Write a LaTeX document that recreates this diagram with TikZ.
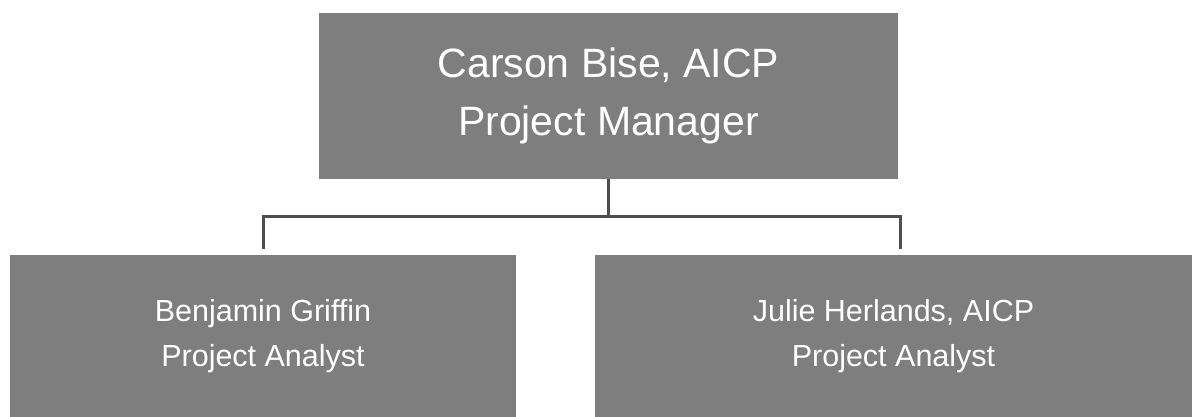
\documentclass[tikz,border=0pt]{standalone}
\usepackage{fontspec}
\setmainfont{Liberation Sans}
\definecolor{boxgray}{RGB}{126,126,126}
\definecolor{linegray}{RGB}{78,78,78}
\begin{document}
\begin{tikzpicture}[x=1pt,y=1pt,
  orgbox/.style={fill=boxgray, draw=none, inner sep=0pt, text=white, align=center},
  bigtext/.style={font=\fontsize{41}{58}\selectfont},
  smalltext/.style={font=\fontsize{30.5}{45}\selectfont},
  conn/.style={draw=linegray, line width=3pt}]
\useasboundingbox[fill=white] (0,0) rectangle (1192,417);
\node[orgbox, bigtext, minimum width=579pt, minimum height=166pt] (pm) at (608.5,321)
  {Carson Bise, AICP\\Project Manager};
\node[orgbox, smalltext, minimum width=506pt, minimum height=162pt] (bg) at (263,81)
  {Benjamin Griffin\\Project Analyst};
\node[orgbox, smalltext, minimum width=597pt, minimum height=162pt] (jh) at (893.5,81)
  {Julie Herlands, AICP\\Project Analyst};
\coordinate (j) at (608,200);
\coordinate (bgtop) at ([yshift=6pt]bg.north);
\coordinate (jhtop) at ([xshift=6.5pt,yshift=6pt]jh.north);
\draw[conn] ([xshift=-0.5pt]pm.south) -- (j);
\draw[conn, line join=miter] (bgtop) |- (j) -| (jhtop);
\end{tikzpicture}
\end{document}
